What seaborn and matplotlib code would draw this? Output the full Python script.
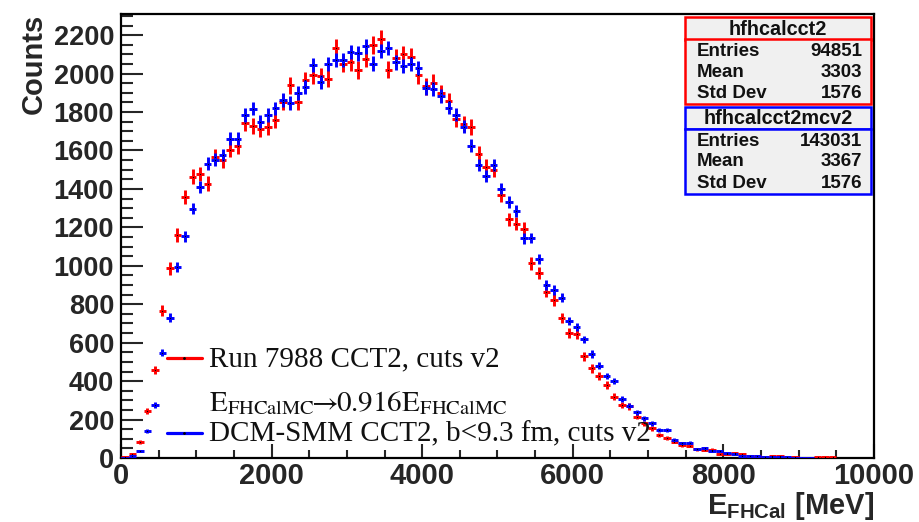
import numpy as np
import pandas as pd
import matplotlib
matplotlib.use("Agg")
import matplotlib.pyplot as plt
import seaborn as sns
from matplotlib.lines import Line2D
from matplotlib.patches import Rectangle
from matplotlib.ticker import MultipleLocator

# ---------------- data (100 MeV bins) ----------------
bin_width = 100
bin_centers = np.arange(50, 9500, bin_width)

data_counts = [
    4, 20, 82, 246, 458, 766, 986, 1160, 1359, 1463,
    1477, 1428, 1567, 1550, 1605, 1622, 1744, 1726, 1714, 1720,
    1761, 1853, 1940, 1853, 1966, 1992, 1985, 1974, 2132, 2052,
    2060, 2018, 2078, 2148, 2182, 2020, 2083, 2100, 2087, 1992,
    1935, 1952, 1898, 1858, 1762, 1740, 1723, 1584, 1515, 1499,
    1368, 1242, 1220, 1194, 1012, 962, 865, 822, 729, 652,
    645, 530, 466, 426, 380, 319, 276, 268, 215, 180,
    154, 120, 102, 85, 68, 64, 45, 43, 43, 21,
    21, 24, 22, 10, 8, 4, 10, 10, 3, 3,
    2, 2, 3, 3, 3,
]
mc_counts = [
    1, 12, 38, 140, 276, 548, 730, 992, 1154, 1298,
    1408, 1532, 1553, 1576, 1662, 1662, 1784, 1818, 1749, 1784,
    1820, 1863, 1846, 1900, 1931, 2044, 1957, 2048, 2070, 2070,
    2113, 2105, 2142, 2052, 2118, 2132, 2058, 2038, 2048, 2030,
    1925, 1918, 1884, 1822, 1786, 1723, 1625, 1524, 1465, 1525,
    1402, 1333, 1285, 1142, 1144, 1033, 900, 874, 835, 714,
    680, 617, 541, 480, 427, 401, 307, 272, 237, 206,
    180, 146, 146, 94, 78, 80, 45, 52, 38, 38,
    28, 21, 10, 10, 8, 3, 3, 3, 3, 2,
    2, 2, 0, 0, 0,
]
data_entries, data_mean, data_std = 94851, 3303, 1576
mc_entries, mc_mean, mc_std = 143031, 3367, 1576
mc_scale = data_entries / mc_entries

legend_labels = ["Run 7988 CCT2, cuts v2",
                 r"$\mathrm{E_{FHCalMC}\!\!\rightarrow\!\!0.916E_{FHCalMC}}$",
                 "DCM-SMM CCT2, b<9.3 fm, cuts v2"]

# ---------------- style ----------------
sns.set_theme(style="white")
plt.rcParams['font.family'] = ['Liberation Sans', 'DejaVu Sans']
plt.rcParams['axes.edgecolor'] = 'black'
plt.rcParams['mathtext.fontset'] = 'stix'

W, H = 920, 522
fig = plt.figure(figsize=(W / 100, H / 100), dpi=100)
fig.patch.set_facecolor('white')
ax = fig.add_axes([121 / W, 1 - 458 / H, (874 - 121) / W, (458 - 14) / H])
ax.set_facecolor('white')

df = pd.DataFrame({"E": bin_centers, "data": data_counts, "mc": mc_counts})
df["data_err"] = np.sqrt(df["data"])
df["mc_err"] = np.sqrt(df["mc"] * mc_scale)

lw = 2.1
for col, err, color in [("data", "data_err", "#ff0000"), ("mc", "mc_err", "#0000ff")]:
    d = df[df[col] > 0]
    ax.errorbar(d["E"], d[col], xerr=bin_width / 2, yerr=d[err], fmt='none',
                ecolor=color, elinewidth=lw, capsize=0, zorder=3)
    sns.scatterplot(data=d, x="E", y=col, ax=ax, color='black', marker='.',
                    s=3, linewidth=0, zorder=4, legend=False)

ax.set_xlim(0, 10000)
ax.set_ylim(0, 2310)
ax.xaxis.set_major_locator(MultipleLocator(2000))
ax.xaxis.set_minor_locator(MultipleLocator(500))
ax.yaxis.set_major_locator(MultipleLocator(200))
ax.yaxis.set_minor_locator(MultipleLocator(50))
ax.tick_params(axis='x', which='major', direction='in', length=10, width=1.5,
               top=False, bottom=True, labelsize=21, pad=3)
ax.tick_params(axis='x', which='minor', direction='in', length=5.5, width=1.5,
               top=False, bottom=True)
ax.tick_params(axis='y', which='major', direction='in', length=16, width=1.5,
               right=False, left=True, labelsize=19.5, pad=5)
ax.tick_params(axis='y', which='minor', direction='in', length=8.5, width=1.5,
               right=False, left=True)
for lab in ax.get_xticklabels() + ax.get_yticklabels():
    lab.set_fontweight('bold')
for s in ax.spines.values():
    s.set_linewidth(1.6)
    s.set_color('black')

ax.set_ylabel("Counts", loc='top', fontsize=21, fontweight='bold', labelpad=4)
ax.set_xlabel(r"$\mathregular{E_{FHCal}}$ [MeV]", loc='right', fontsize=21,
              fontweight='bold', labelpad=0)

# ---------------- legend ----------------
def fx(px):
    return px / W

def fy(py):
    return 1 - py / H

leg_rows = [(357.7, 366.7, "#ff0000", legend_labels[0]),
            (None, 411.0, None, legend_labels[1]),
            (432.7, 441.7, "#0000ff", legend_labels[2])]
for ly, base, c, lab in leg_rows:
    if c is not None:
        fig.add_artist(Line2D([fx(166.5), fx(202)], [fy(ly), fy(ly)], color=c,
                              lw=2.3, transform=fig.transFigure))
        fig.add_artist(Line2D([fx(184)], [fy(ly)], color='black', marker='.',
                              markersize=2, transform=fig.transFigure))
    fig.text(fx(209), fy(base), lab, family='Liberation Serif', fontsize=21,
             va='baseline', ha='left', color='#111111')

# ---------------- stats boxes ----------------
def stats_box(top, color, name, entries, mean, std):
    x0, x1 = 685, 871
    t_bot = top + 22
    b_bot = t_bot + 64.5
    for (ya, yb) in [(top, t_bot), (t_bot, b_bot)]:
        fig.add_artist(Rectangle((fx(x0), fy(yb)), fx(x1) - fx(x0), fy(ya) - fy(yb),
                                 transform=fig.transFigure, facecolor='#f0f0f0',
                                 edgecolor=color, linewidth=1.8))
    fig.text(fx((x0 + x1) / 2), fy(top + 12), name, ha='center', va='center',
             fontsize=14.3, fontweight='bold', color='#111111')
    rows = [("Entries", entries), ("Mean", mean), ("Std Dev", std)]
    for i, (k, v) in enumerate(rows):
        yy = t_bot + 12 + i * 21
        fig.text(fx(697), fy(yy), k, ha='left', va='center', fontsize=13.5,
                 fontweight='bold', color='#111111')
        fig.text(fx(862), fy(yy), str(v), ha='right', va='center', fontsize=13.5,
                 fontweight='bold', color='#111111')

stats_box(17.5, '#ff0000', 'hfhcalcct2', data_entries, data_mean, data_std)
stats_box(107, '#0000ff', 'hfhcalcct2mcv2', mc_entries, mc_mean, mc_std)

fig.savefig("out.png", dpi=100, facecolor='white')
